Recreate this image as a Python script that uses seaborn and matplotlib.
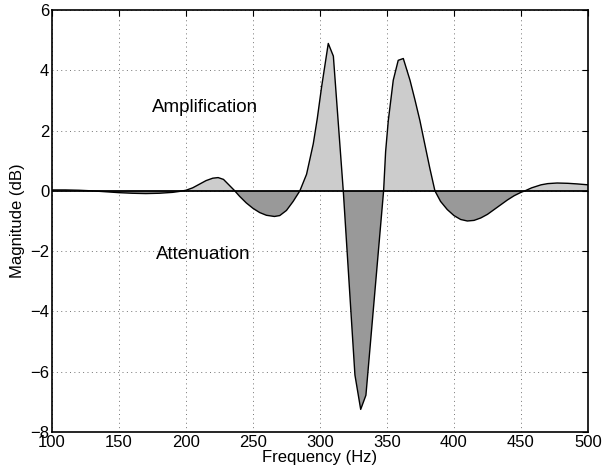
import numpy as np
import pandas as pd
import matplotlib
matplotlib.use("Agg")
import matplotlib.pyplot as plt
import seaborn as sns

# frequency response
freq = [100, 110, 120, 130, 140, 150, 160, 170, 180, 190, 195, 200, 205, 210, 215,
        220, 224, 228, 232, 236, 240, 245, 250, 255, 260, 266, 270, 275, 280, 285,
        290, 295, 298, 301.2, 306.2, 310, 317.4, 326.1, 330.4, 334.3, 347.5, 349, 351,
        354.7, 358.4, 362.2, 367.2, 371, 374.6, 378, 382, 385.8, 390, 395, 400, 405,
        410, 415, 420, 425, 430, 435, 440, 445, 450, 453, 458, 465, 470, 477, 485, 492,
        500]
mag = [0.03, 0.03, 0.02, 0.0, -0.03, -0.06, -0.08, -0.09, -0.08, -0.05, -0.02, 0.02,
       0.1, 0.22, 0.34, 0.42, 0.44, 0.38, 0.2, 0.02, -0.18, -0.4, -0.58, -0.72, -0.81,
       -0.85, -0.82, -0.65, -0.35, 0.0, 0.55, 1.56, 2.4, 3.44, 4.89, 4.47, 0.0, -6.11,
       -7.25, -6.78, 0.0, 1.3, 2.33, 3.67, 4.33, 4.39, 3.67, 3.0, 2.33, 1.6, 0.75, 0.0,
       -0.35, -0.62, -0.82, -0.95, -1.0, -0.98, -0.9, -0.78, -0.62, -0.46, -0.3, -0.16,
       -0.05, 0.0, 0.1, 0.2, 0.24, 0.26, 0.25, 0.23, 0.2]

x_ticks = [100, 150, 200, 250, 300, 350, 400, 450, 500]
y_ticks = [-8, -6, -4, -2, 0, 2, 4, 6]

df = pd.DataFrame({"Frequency (Hz)": freq, "Magnitude (dB)": mag})

sns.set_theme(style="white")
plt.rcParams["font.family"] = ["Liberation Sans", "DejaVu Sans"]
plt.rcParams["text.color"] = "black"
plt.rcParams["axes.labelcolor"] = "black"
plt.rcParams["xtick.color"] = "black"
plt.rcParams["ytick.color"] = "black"

fig = plt.figure(figsize=(6.08, 4.71), dpi=100)
ax = fig.add_axes([0.0855, 0.0828, 0.8815, 0.896])

f = np.array(freq)
m = np.array(mag)
ax.fill_between(f, m, 0, where=m >= 0, interpolate=True, color="#cccccc", lw=0)
ax.fill_between(f, m, 0, where=m <= 0, interpolate=True, color="#999999", lw=0)
sns.lineplot(data=df, x="Frequency (Hz)", y="Magnitude (dB)", color="black", lw=1, ax=ax)
ax.axhline(0, color="black", lw=1.3)

ax.set_xlim(100, 500)
ax.set_ylim(-8, 6)
ax.set_xticks(x_ticks)
ax.set_yticks(y_ticks)
ax.set_yticklabels([str(v).replace("-", "\u2212") for v in y_ticks])
ax.grid(True, color="0.45", linestyle=(0, (1, 3.5)), lw=0.7)
ax.tick_params(direction="in", length=4, width=0.8, labelsize=12,
               top=True, right=True, pad=2)
for s in ax.spines.values():
    s.set_color("black")
    s.set_linewidth(1.2)

ax.set_xlabel("Frequency (Hz)", fontsize=12, labelpad=0)
ax.set_ylabel("Magnitude (dB)", fontsize=12, labelpad=4)

ax.text(174.5, 2.78, "Amplification", fontsize=13.5, va="center", ha="left")
ax.text(177.5, -2.11, "Attenuation", fontsize=13.5, va="center", ha="left")

fig.savefig("out.png", dpi=100)
